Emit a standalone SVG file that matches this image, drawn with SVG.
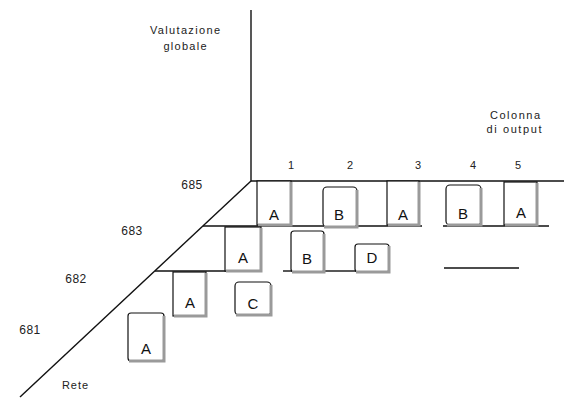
<svg xmlns="http://www.w3.org/2000/svg" width="564" height="398" viewBox="0 0 564 398">
<style>
.ax{stroke:#111;stroke-width:1.4;fill:none}
.bx{fill:#fff;stroke:#111;stroke-width:1.2}
.sh{fill:none;stroke:#9a9a9a;stroke-width:3}
.lt{font-family:"Liberation Sans",Arial,sans-serif;font-size:15px;fill:#111;text-anchor:middle}
.lb{font-family:"Liberation Sans",Arial,sans-serif;font-size:11px;fill:#222;text-anchor:middle}
.rn{font-family:"Liberation Sans",Arial,sans-serif;font-size:12px;fill:#222;text-anchor:middle;letter-spacing:0.5px}
</style>
<rect width="564" height="398" fill="#fff"/>
<g id="connectors">
<line class="ax" x1="251" y1="10" x2="251" y2="181"/>
<line class="ax" x1="251" y1="181" x2="564" y2="181"/>
<line class="ax" x1="251" y1="181" x2="20" y2="397"/>
<line class="ax" x1="203" y1="226" x2="422" y2="226"/>
<line class="ax" x1="443" y1="226" x2="549" y2="226"/>
<line class="ax" x1="155" y1="271" x2="227" y2="271"/>
<line class="ax" x1="283" y1="271" x2="292" y2="271"/>
<line class="ax" x1="325" y1="271" x2="356" y2="271"/>
<line class="ax" x1="444" y1="268" x2="519" y2="268"/>
</g>
<g id="labels">
<text class="lb" x="185" y="34" textLength="70" lengthAdjust="spacing">Valutazione</text>
<text class="lb" x="185" y="50" textLength="43" lengthAdjust="spacing">globale</text>
<text class="lb" x="515" y="119" textLength="50" lengthAdjust="spacing">Colonna</text>
<text class="lb" x="514" y="133" textLength="55" lengthAdjust="spacing">di output</text>
<text class="lb" x="291" y="169">1</text>
<text class="lb" x="350" y="169">2</text>
<text class="lb" x="418" y="169">3</text>
<text class="lb" x="473" y="169">4</text>
<text class="lb" x="518" y="169">5</text>
<text class="rn" x="192" y="189">685</text>
<text class="rn" x="132" y="235">683</text>
<text class="rn" x="76" y="283">682</text>
<text class="rn" x="30" y="334">681</text>
<text class="lb" x="75" y="389" textLength="26" lengthAdjust="spacing">Rete</text>
</g>
<g id="n685-1"><rect class="bx" x="257" y="181" width="34" height="44"/><path class="sh" d="M291,182V225H258"/><text class="lt" x="274" y="220">A</text></g>
<g id="n685-2"><rect class="bx" x="323" y="187" width="34" height="40" rx="4"/><path class="sh" d="M357,190V227H324"/><text class="lt" x="339" y="220">B</text></g>
<g id="n685-3"><rect class="bx" x="387" y="181" width="32" height="44"/><path class="sh" d="M419,182V225H388"/><text class="lt" x="403" y="220">A</text></g>
<g id="n685-4"><rect class="bx" x="446" y="185" width="35" height="40" rx="4"/><path class="sh" d="M481,188V225H447"/><text class="lt" x="463" y="219">B</text></g>
<g id="n685-5"><rect class="bx" x="504" y="182" width="33" height="43"/><path class="sh" d="M537,183V225H505"/><text class="lt" x="521" y="218">A</text></g>
<g id="n683-1"><rect class="bx" x="225" y="227" width="36" height="44"/><path class="sh" d="M261,228V271H226"/><text class="lt" x="243" y="263">A</text></g>
<g id="n683-2"><rect class="bx" x="291" y="231" width="33" height="41" rx="3"/><path class="sh" d="M324,234V272H292"/><text class="lt" x="307" y="264">B</text></g>
<g id="n683-3"><rect class="bx" x="355" y="244" width="34" height="28" rx="3"/><path class="sh" d="M389,246V272H356"/><text class="lt" x="372" y="263">D</text></g>
<g id="n682-1"><rect class="bx" x="173" y="272" width="33" height="44"/><path class="sh" d="M206,273V316H174"/><text class="lt" x="190" y="308">A</text></g>
<g id="n682-2"><rect class="bx" x="235" y="282" width="36" height="33" rx="4"/><path class="sh" d="M271,285V315H236"/><text class="lt" x="253" y="309">C</text></g>
<g id="n681-1"><rect class="bx" x="128" y="313" width="36" height="48" rx="3"/><path class="sh" d="M164,316V361H129"/><text class="lt" x="146" y="354">A</text></g>
</svg>
